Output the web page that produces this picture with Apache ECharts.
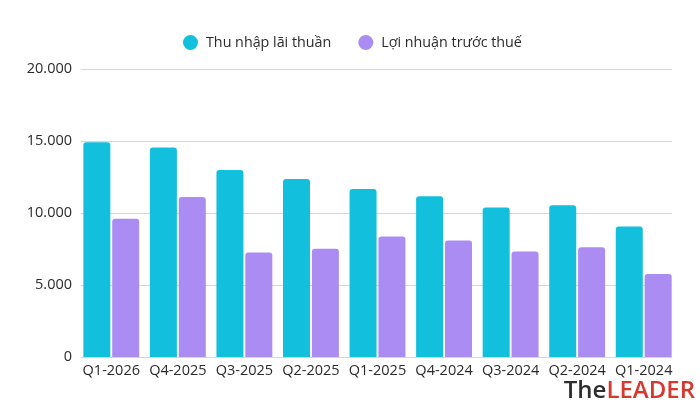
<!DOCTYPE html>
<html>
<head>
<meta charset="utf-8">
<script src="https://cdn.jsdelivr.net/npm/echarts@6/dist/echarts.min.js"></script>
<style>
html,body{margin:0;padding:0;background:#fff;}
#c{width:700px;height:405px;}
</style>
</head>
<body>
<div id="c"></div>
<script>
var categories = ['Q1-2026','Q4-2025','Q3-2025','Q2-2025','Q1-2025','Q4-2024','Q3-2024','Q2-2024','Q1-2024'];
var thuNhap = [14920, 14550, 12990, 12360, 11670, 11160, 10390, 10530, 9070];
var loiNhuan = [9600, 11110, 7250, 7510, 8370, 8090, 7320, 7620, 5770];
var seriesNames = ['Thu nhập lãi thuần', 'Lợi nhuận trước thuế'];
var yTicks = {min: 0, max: 20000, interval: 5000};

var font = '"Open Sans", "Noto Sans", sans-serif';
var chart = echarts.init(document.getElementById('c'));
function fmt(v){ return String(v).replace(/\B(?=(\d{3})+(?!\d))/g, '.'); }

chart.setOption({
  animation: false,
  textStyle: {fontFamily: font},
  legend: {
    top: 30,
    left: 178,
    icon: 'circle',
    itemWidth: 15,
    itemHeight: 15,
    itemGap: 27,
    textStyle: {fontFamily: font, fontSize: 14.3, color: '#2b2b2b', padding: [0,0,0,3]},
    data: seriesNames
  },
  grid: [
    {left: 81, right: 28, top: 69, bottom: 48},
    {left: 78, right: 23, top: 69, bottom: 48}
  ],
  xAxis: [
    {type: 'category', gridIndex: 0, data: categories, show: false},
    {type: 'category', gridIndex: 1, data: categories,
     axisLine: {show: false}, axisTick: {show: false},
     axisLabel: {fontFamily: font, fontSize: 14.5, color: '#2b2b2b', margin: 6, interval: 0}}
  ],
  yAxis: [
    {type: 'value', gridIndex: 0, min: yTicks.min, max: yTicks.max, interval: yTicks.interval,
     axisLine: {show: false}, axisTick: {show: false},
     axisLabel: {fontFamily: font, fontSize: 14.5, color: '#2b2b2b', margin: 9, formatter: fmt},
     splitLine: {lineStyle: {color: '#d6d6d6', width: 1}}},
    {type: 'value', gridIndex: 1, min: yTicks.min, max: yTicks.max, interval: yTicks.interval,
     show: false, splitLine: {show: false}}
  ],
  series: [
    {name: seriesNames[0], type: 'bar', xAxisIndex: 1, yAxisIndex: 1, data: thuNhap,
     barWidth: 27, barGap: '7%',
     itemStyle: {color: '#12BFDD', borderRadius: [3,3,0,0]}},
    {name: seriesNames[1], type: 'bar', xAxisIndex: 1, yAxisIndex: 1, data: loiNhuan,
     barWidth: 27,
     itemStyle: {color: '#AA8CF2', borderRadius: [3,3,0,0]}}
  ],
  graphic: [{
    type: 'text', right: 5, bottom: 2,
    style: {
      text: '{a|The}{b|LEADER}',
      rich: {
        a: {fontFamily: font, fontSize: 24, fontWeight: 600, fill: '#2e2e2e'},
        b: {fontFamily: font, fontSize: 24, fontWeight: 600, fill: '#D9382E'}
      }
    }
  }]
});
</script>
</body>
</html>
